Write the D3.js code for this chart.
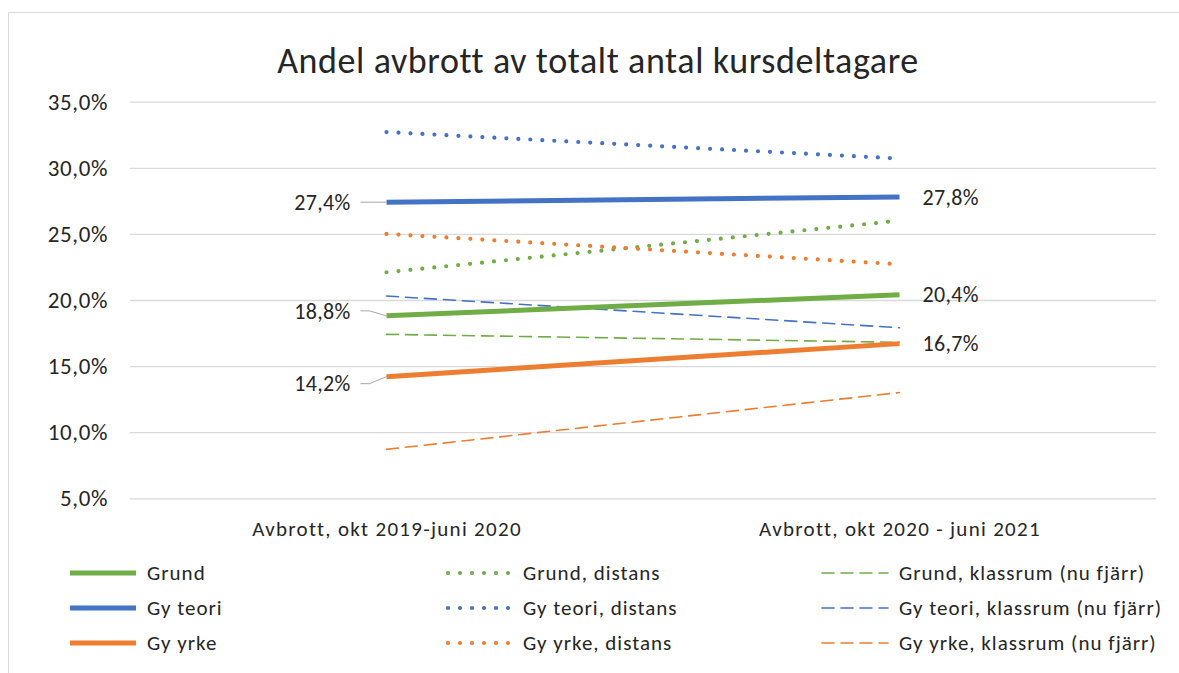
<!DOCTYPE html>
<html>
<head>
<meta charset="utf-8">
<script src="https://cdn.jsdelivr.net/npm/d3@7"></script>
<style>
  body { margin: 0; background: #fff; }
  text { font-family: Carlito, Lato, "Open Sans", sans-serif; fill: #262626; }
</style>
</head>
<body>
<div id="chart"></div>
<script>
var categories = ["Avbrott, okt 2019-juni 2020", "Avbrott, okt 2020 - juni 2021"];
var yTicks = [5, 10, 15, 20, 25, 30, 35];

// värden i procent per kategori
var grund = [18.8, 20.4];
var gyTeori = [27.4, 27.8];
var gyYrke = [14.2, 16.7];
var grundDistans = [22.1, 26.0];
var gyTeoriDistans = [32.7, 30.7];
var gyYrkeDistans = [25.0, 22.7];
var grundKlassrum = [17.4, 16.8];
var gyTeoriKlassrum = [20.3, 17.9];
var gyYrkeKlassrum = [8.7, 13.0];

var green = "#70ad47", blue = "#4472c4", orange = "#ed7d31";

var series = [
  { name: "Grund", values: grund, color: green, kind: "solid", col: 0, row: 0 },
  { name: "Gy teori", values: gyTeori, color: blue, kind: "solid", col: 0, row: 1 },
  { name: "Gy yrke", values: gyYrke, color: orange, kind: "solid", col: 0, row: 2 },
  { name: "Grund, distans", values: grundDistans, color: green, kind: "dot", col: 1, row: 0 },
  { name: "Gy teori, distans", values: gyTeoriDistans, color: blue, kind: "dot", col: 1, row: 1 },
  { name: "Gy yrke, distans", values: gyYrkeDistans, color: orange, kind: "dot", col: 1, row: 2 },
  { name: "Grund, klassrum (nu fjärr)", values: grundKlassrum, color: green, kind: "dash", col: 2, row: 0 },
  { name: "Gy teori, klassrum (nu fjärr)", values: gyTeoriKlassrum, color: blue, kind: "dash", col: 2, row: 1 },
  { name: "Gy yrke, klassrum (nu fjärr)", values: gyYrkeKlassrum, color: orange, kind: "dash", col: 2, row: 2 }
];

var width = 1179, height = 673;
var svg = d3.select("#chart").append("svg")
    .attr("width", width)
    .attr("height", height);

// ram
svg.append("path")
    .attr("d", "M8.5," + height + "V12.5H" + width)
    .attr("fill", "none")
    .attr("stroke", "#d9d9d9");

svg.append("text")
    .attr("x", 598)
    .attr("y", 73)
    .attr("text-anchor", "middle")
    .style("font-size", "36px")
    .style("letter-spacing", "0.6px")
    .text("Andel avbrott av totalt antal kursdeltagare");

var x = d3.scalePoint().domain(categories).range([130, 1156]).padding(0.5);
var y = d3.scaleLinear().domain([5, 35]).range([498.3, 101.7]);

var fmt = d => d3.format(".1f")(d).replace(".", ",") + "%";

var yAxis = svg.append("g")
    .attr("transform", "translate(130,0)")
    .call(d3.axisLeft(y).tickValues(yTicks).tickSize(-1026).tickPadding(22).tickFormat(fmt));
yAxis.select(".domain").remove();
yAxis.selectAll(".tick line").attr("stroke", "#d9d9d9").attr("stroke-width", 1.3);
yAxis.selectAll(".tick text")
    .style("font-size", "23px")
    .style("letter-spacing", "0.6px")
    .attr("fill", "#404040");

var xAxis = svg.append("g")
    .attr("transform", "translate(0,498)")
    .call(d3.axisBottom(x).tickSize(0).tickPadding(23));
xAxis.select(".domain").remove();
xAxis.selectAll(".tick text")
    .style("font-size", "21px")
    .style("letter-spacing", "1.3px")
    .attr("fill", "#404040");

function styleLine(sel) {
  sel.attr("fill", "none")
    .attr("stroke", d => d.color)
    .attr("stroke-width", d => d.kind === "solid" ? 5 : d.kind === "dot" ? 4.2 : 1.6)
    .attr("stroke-dasharray", d => d.kind === "dot" ? "0,12" : d.kind === "dash" ? "12,7" : null)
    .attr("stroke-linecap", d => d.kind === "solid" ? "butt" : "round");
}

var line = d3.line()
    .x((d, i) => x(categories[i]))
    .y(d => y(d));

// ritordning: streckade först, sedan prickade, sist heldragna
var drawOrder = series.filter(s => s.kind === "dash")
    .concat(series.filter(s => s.kind === "dot"))
    .concat(series.filter(s => s.kind === "solid"));

svg.append("g").selectAll("path")
    .data(drawOrder)
    .join("path")
    .attr("d", d => line(d.values))
    .call(styleLine);

// dataetiketter för heldragna serier
var labelOffsets = { "Grund": -5, "Gy teori": 0, "Gy yrke": 7 };
var solids = series.filter(s => s.kind === "solid");
var x0 = x(categories[0]), x1 = x(categories[1]);

svg.append("g").selectAll("path")
    .data(solids)
    .join("path")
    .attr("d", d => {
      var yl = y(d.values[0]) + labelOffsets[d.name];
      return "M" + (x0 - 26) + "," + yl + "H" + (x0 - 17) + "L" + x0 + "," + y(d.values[0]);
    })
    .attr("fill", "none")
    .attr("stroke", "#a6a6a6")
    .attr("stroke-width", 1);

svg.append("g").selectAll("text")
    .data(solids)
    .join("text")
    .attr("x", x0 - 36)
    .attr("y", d => y(d.values[0]) + labelOffsets[d.name])
    .attr("dy", "0.35em")
    .attr("text-anchor", "end")
    .style("font-size", "22px")
    .style("letter-spacing", "0.3px")
    .text(d => fmt(d.values[0]));

svg.append("g").selectAll("text")
    .data(solids)
    .join("text")
    .attr("x", x1 + 23)
    .attr("y", d => y(d.values[1]))
    .attr("dy", "0.35em")
    .style("font-size", "22px")
    .style("letter-spacing", "0.3px")
    .text(d => fmt(d.values[1]));

// förklaring
var legendCols = [70, 446, 822], legendRows = [573, 608, 643];
var legend = svg.append("g").selectAll("g")
    .data(series)
    .join("g")
    .attr("transform", d => "translate(" + legendCols[d.col] + "," + legendRows[d.row] + ")");

legend.append("path")
    .attr("d", d => d.kind === "dot" ? "M2,0H66" : "M0,0H66")
    .call(styleLine);

legend.append("text")
    .attr("x", 77)
    .attr("dy", "0.35em")
    .style("font-size", "21px")
    .style("letter-spacing", "1px")
    .attr("fill", "#404040")
    .text(d => d.name);
</script>
</body>
</html>
